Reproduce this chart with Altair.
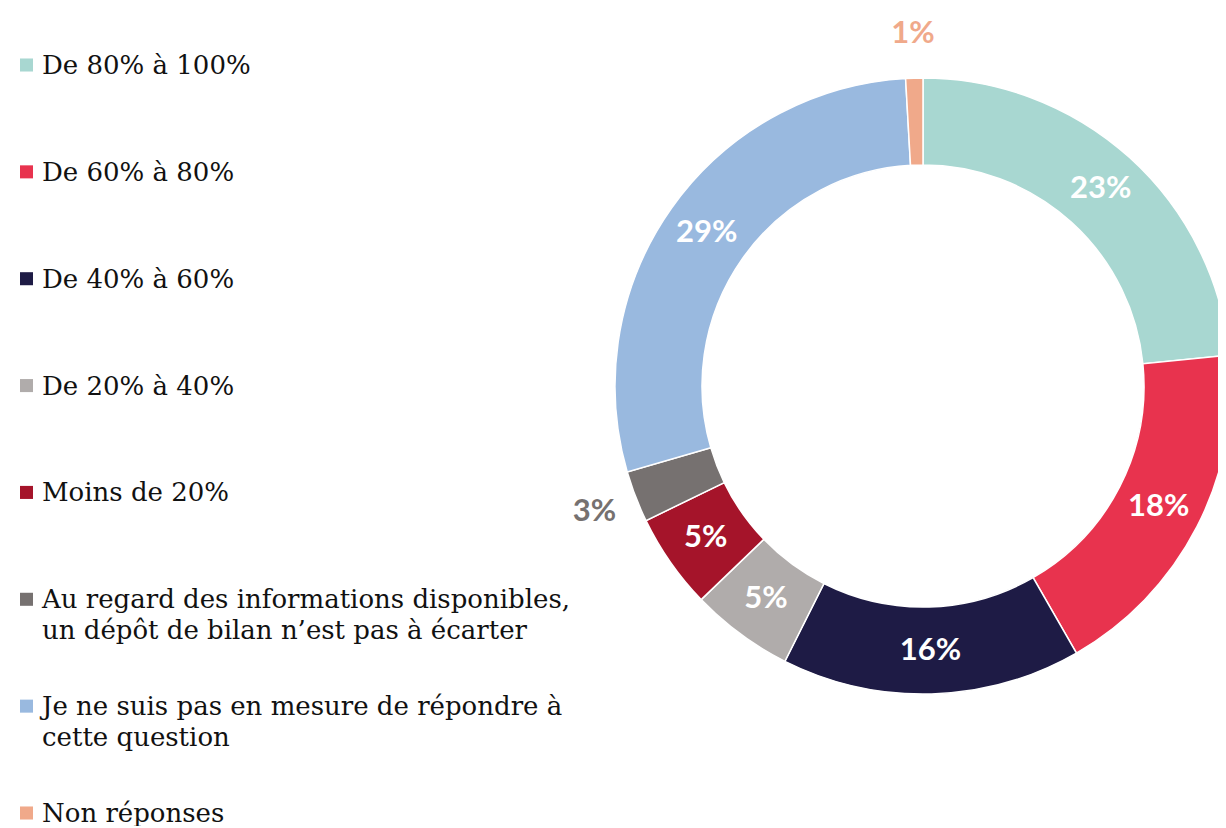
import altair as alt
import pandas as pd

categories = [
    "De 80% à 100%",
    "De 60% à 80%",
    "De 40% à 60%",
    "De 20% à 40%",
    "Moins de 20%",
    "Au regard des informations disponibles,\nun dépôt de bilan n’est pas à écarter",
    "Je ne suis pas en mesure de répondre à\ncette question",
    "Non réponses",
]
values = [23.4, 18.3, 15.7, 5.4, 5.0, 2.7, 28.6, 0.9]
labels = ["23%", "18%", "16%", "5%", "5%", "3%", "29%", "1%"]
label_pos = ["in", "in", "in", "in", "in", "out", "in", "out"]
colors = ["#A8D7D1", "#E8334E", "#1E1B45", "#B0ACAB", "#A5142A", "#767170", "#99B9DF", "#F0A98A"]

df = pd.DataFrame({
    "cat": categories,
    "value": values,
    "label": labels,
    "pos": label_pos,
    "order": list(range(len(categories))),
})

CX, CY = 915, 378
color_scale = alt.Scale(domain=categories, range=colors)

base = alt.Chart(df).encode(
    theta=alt.Theta("value:Q", stack=True),
    order=alt.Order("order:Q"),
    x=alt.value(CX),
    y=alt.value(CY),
)

arcs = base.mark_arc(innerRadius=221, outerRadius=308, stroke="white", strokeWidth=1.5).encode(
    color=alt.Color("cat:N", scale=color_scale, legend=None),
)

inner_txt = base.transform_calculate(
    t="datum.pos == 'in' ? datum.label : ''"
).mark_text(font="Lato", fontWeight="bold", fontSize=31, radius=265, color="white").encode(
    text="t:N",
)

outer_txt = base.transform_calculate(
    t="datum.pos == 'out' ? datum.label : ''"
).mark_text(font="Lato", fontWeight="bold", fontSize=31, radius=352).encode(
    text="t:N",
    color=alt.Color("cat:N", scale=color_scale, legend=None),
)

leg_y = alt.Y("order:Q", scale=alt.Scale(domain=[0, 7], range=[57, 805]), axis=None)

leg_sq = alt.Chart(df).mark_square(size=170, opacity=1).encode(
    x=alt.value(18.5),
    y=leg_y,
    color=alt.Color("cat:N", scale=color_scale, legend=None),
)

leg_txt = alt.Chart(df).mark_text(
    font="DejaVu Serif", fontSize=26, align="left", baseline="alphabetic",
    dy=9, lineBreak="\n", lineHeight=31, color="#111111",
).encode(
    x=alt.value(34),
    y=leg_y,
    text="cat:N",
)

chart = alt.layer(arcs, inner_txt, outer_txt, leg_sq, leg_txt).properties(
    width=1210, height=818, padding=0,
    autosize=alt.AutoSizeParams(type="none"),
).configure_view(stroke=None)

chart.save("out.html", embed_options={"renderer": "svg", "actions": False})
